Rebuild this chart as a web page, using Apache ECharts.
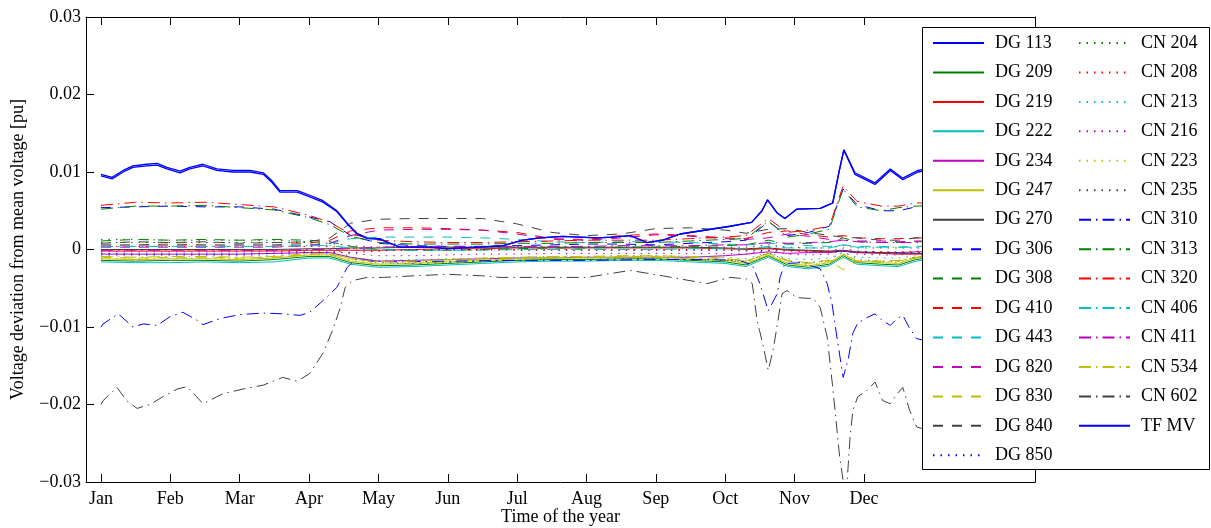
<!DOCTYPE html>
<html>
<head>
<meta charset="utf-8">
<script src="https://cdn.jsdelivr.net/npm/echarts@6/dist/echarts.min.js"></script>
<style>
  html, body { margin: 0; padding: 0; background: #fff; }
  #chart { width: 1211px; height: 528px; }
</style>
</head>
<body>
<div id="chart"></div>
<script>
// ---- axis labels -------------------------------------------------------
const monthLabels = ['Jan','Feb','Mar','Apr','May','Jun','Jul','Aug','Sep','Oct','Nov','Dec'];
const monthTicks = [0,1,2,3,4,5,6,7,8,9,10,11];
const xTitle = 'Time of the year';
const yTitle = 'Voltage deviation from mean voltage [pu]';

// ---- shared sampling instants (months after the Jan tick) --------------
const gridMonths = [0,0.5,1,1.5,2,2.5,3,3.3,3.6,4,4.5,5,5.5,6,6.5,7,7.5,8,8.5,9,9.3,9.62,9.9,10.2,10.5,10.7,10.9,11.25,11.5,11.75,12];

// ---- series sampled on gridMonths (pu) ---------------------------------
const dg209 = [-0.0014,-0.0015,-0.0014,-0.0014,-0.0015,-0.0013,-0.0009,-0.0009,-0.0017,-0.0021,-0.0020,-0.0018,-0.0016,-0.0014,-0.0013,-0.0013,-0.0012,-0.0012,-0.0014,-0.0016,-0.0020,-0.0008,-0.0020,-0.0023,-0.0019,-0.0008,-0.0017,-0.0019,-0.0020,-0.0013,-0.0010];
const dg219 = [-0.0002,-0.0002,-0.0002,-0.0002,-0.0002,-0.0002,-0.0001,-0.0001,-0.0001,-0.0001,0.0000,0.0001,0.0001,0.0002,0.0002,0.0002,0.0002,0.0002,0.0002,0.0001,0.0000,0.0001,-0.0001,-0.0002,-0.0003,-0.0002,-0.0004,-0.0005,-0.0006,-0.0006,-0.0006];
const dg222 = [-0.0016,-0.0017,-0.0017,-0.0016,-0.0017,-0.0016,-0.0011,-0.0011,-0.0019,-0.0023,-0.0022,-0.0020,-0.0018,-0.0016,-0.0015,-0.0015,-0.0014,-0.0014,-0.0016,-0.0018,-0.0022,-0.0010,-0.0022,-0.0025,-0.0021,-0.0010,-0.0019,-0.0021,-0.0022,-0.0015,-0.0012];
const dg234 = [-0.0006,-0.0006,-0.0006,-0.0006,-0.0006,-0.0005,-0.0004,-0.0004,-0.0010,-0.0015,-0.0014,-0.0013,-0.0012,-0.0011,-0.0011,-0.0010,-0.0010,-0.0010,-0.0010,-0.0008,-0.0006,-0.0003,-0.0005,-0.0004,-0.0004,-0.0002,-0.0004,-0.0004,-0.0004,-0.0003,-0.0003];
const dg247 = [-0.0012,-0.0013,-0.0012,-0.0012,-0.0013,-0.0011,-0.0007,-0.0007,-0.0015,-0.0019,-0.0018,-0.0016,-0.0014,-0.0012,-0.0011,-0.0011,-0.0010,-0.0010,-0.0012,-0.0014,-0.0018,-0.0007,-0.0018,-0.0021,-0.0017,-0.0006,-0.0015,-0.0017,-0.0018,-0.0011,-0.0008];
const dg270 = [0.0000,0.0000,0.0000,0.0000,0.0000,0.0000,0.0001,0.0001,0.0002,0.0002,0.0003,0.0003,0.0003,0.0003,0.0003,0.0003,0.0003,0.0003,0.0003,0.0002,0.0001,0.0002,0.0000,-0.0001,-0.0002,-0.0001,-0.0003,-0.0004,-0.0005,-0.0005,-0.0005];
const dg306 = [0.0054,0.0055,0.0056,0.0055,0.0055,0.0052,0.0042,0.0036,0.0018,0.0008,0.0005,0.0004,0.0004,0.0005,0.0006,0.0007,0.0007,0.0006,0.0008,0.0010,0.0012,0.0036,0.0018,0.0022,0.0030,0.0078,0.0058,0.0050,0.0050,0.0055,0.0056];
const dg308 = [0.0011,0.0013,0.0012,0.0013,0.0012,0.0013,0.0012,0.0010,0.0004,0.0000,-0.0001,-0.0001,0.0000,0.0001,0.0002,0.0002,0.0003,0.0003,0.0004,0.0005,0.0006,0.0012,0.0007,0.0008,0.0009,0.0015,0.0010,0.0009,0.0009,0.0010,0.0010];
const dg410 = [0.0006,0.0006,0.0007,0.0006,0.0006,0.0006,0.0008,0.0012,0.0024,0.0028,0.0028,0.0027,0.0025,0.0022,0.0014,0.0013,0.0018,0.0020,0.0018,0.0015,0.0014,0.0022,0.0024,0.0019,0.0016,0.0018,0.0015,0.0014,0.0014,0.0015,0.0015];
const dg443 = [0.0005,0.0005,0.0005,0.0005,0.0005,0.0005,0.0006,0.0008,0.0014,0.0016,0.0016,0.0016,0.0015,0.0013,0.0010,0.0009,0.0010,0.0010,0.0009,0.0007,0.0006,0.0008,0.0007,0.0005,0.0004,0.0006,0.0004,0.0004,0.0003,0.0004,0.0004];
const dg820 = [0.0003,0.0003,0.0003,0.0003,0.0003,0.0003,0.0005,0.0008,0.0018,0.0025,0.0026,0.0026,0.0025,0.0020,0.0013,0.0012,0.0015,0.0019,0.0017,0.0014,0.0013,0.0015,0.0020,0.0017,0.0013,0.0012,0.0011,0.0011,0.0010,0.0011,0.0011];
const dg830 = [-0.0010,-0.0011,-0.0010,-0.0010,-0.0011,-0.0010,-0.0006,-0.0006,-0.0012,-0.0016,-0.0015,-0.0013,-0.0012,-0.0011,-0.0010,-0.0010,-0.0009,-0.0009,-0.0010,-0.0012,-0.0015,-0.0005,-0.0014,-0.0017,-0.0014,-0.0026,-0.0016,-0.0015,-0.0014,-0.0010,-0.0008];
const dg840 = [0.0008,0.0010,0.0009,0.0010,0.0008,0.0009,0.0010,0.0015,0.0034,0.0039,0.0040,0.0040,0.0040,0.0033,0.0022,0.0018,0.0020,0.0027,0.0028,0.0025,0.0021,0.0026,0.0027,0.0022,0.0018,0.0016,0.0015,0.0012,0.0012,0.0015,0.0015];
const dg850 = [-0.0005,-0.0006,-0.0006,-0.0006,-0.0006,-0.0005,-0.0004,-0.0004,-0.0004,-0.0002,0.0000,0.0000,0.0000,-0.0001,-0.0001,-0.0001,-0.0001,-0.0001,-0.0001,-0.0001,-0.0002,-0.0001,-0.0002,-0.0002,-0.0003,-0.0002,-0.0003,-0.0003,-0.0004,-0.0004,-0.0004];
const cn204 = [0.0013,0.0013,0.0012,0.0012,0.0012,0.0012,0.0010,0.0004,-0.0010,-0.0017,-0.0018,-0.0017,-0.0015,-0.0014,-0.0013,-0.0013,-0.0012,-0.0012,-0.0013,-0.0014,-0.0016,-0.0004,-0.0015,-0.0017,-0.0014,-0.0002,-0.0013,-0.0015,-0.0015,-0.0010,-0.0008];
const cn208 = [0.0004,0.0004,0.0004,0.0004,0.0004,0.0004,0.0004,0.0004,0.0001,-0.0001,-0.0001,-0.0001,-0.0001,0.0000,0.0000,0.0000,0.0000,0.0000,0.0000,0.0000,-0.0001,0.0003,-0.0001,-0.0002,-0.0002,0.0002,-0.0002,-0.0003,-0.0003,-0.0002,-0.0002];
const cn213 = [-0.0008,-0.0008,-0.0008,-0.0008,-0.0008,-0.0008,-0.0005,-0.0005,-0.0010,-0.0014,-0.0013,-0.0012,-0.0011,-0.0010,-0.0009,-0.0009,-0.0008,-0.0008,-0.0009,-0.0010,-0.0012,-0.0004,-0.0012,-0.0013,-0.0011,-0.0004,-0.0010,-0.0011,-0.0011,-0.0008,-0.0007];
const cn216 = [-0.0003,-0.0003,-0.0003,-0.0003,-0.0003,-0.0003,-0.0002,-0.0002,-0.0005,-0.0008,-0.0008,-0.0007,-0.0006,-0.0006,-0.0005,-0.0005,-0.0005,-0.0005,-0.0005,-0.0005,-0.0006,-0.0001,-0.0006,-0.0007,-0.0006,-0.0001,-0.0006,-0.0007,-0.0007,-0.0005,-0.0004];
const cn223 = [-0.0011,-0.0012,-0.0011,-0.0011,-0.0012,-0.0011,-0.0007,-0.0007,-0.0014,-0.0018,-0.0017,-0.0015,-0.0013,-0.0012,-0.0011,-0.0011,-0.0010,-0.0010,-0.0011,-0.0013,-0.0017,-0.0006,-0.0017,-0.0020,-0.0016,-0.0006,-0.0014,-0.0016,-0.0017,-0.0011,-0.0008];
const cn235 = [0.0009,0.0009,0.0009,0.0009,0.0009,0.0009,0.0009,0.0008,0.0005,0.0003,0.0003,0.0003,0.0003,0.0003,0.0003,0.0003,0.0003,0.0003,0.0003,0.0003,0.0003,0.0006,0.0003,0.0002,0.0002,0.0005,0.0002,0.0002,0.0002,0.0002,0.0002];
const cn313 = [0.0052,0.0056,0.0056,0.0057,0.0054,0.0051,0.0041,0.0032,0.0017,0.0009,0.0007,0.0007,0.0007,0.0008,0.0008,0.0009,0.0009,0.0009,0.0011,0.0013,0.0014,0.0037,0.0016,0.0020,0.0026,0.0078,0.0055,0.0050,0.0054,0.0056,0.0057];
const cn320 = [0.0057,0.0061,0.0060,0.0061,0.0058,0.0055,0.0044,0.0035,0.0020,0.0012,0.0010,0.0009,0.0009,0.0010,0.0011,0.0012,0.0012,0.0012,0.0014,0.0016,0.0018,0.0040,0.0022,0.0025,0.0030,0.0082,0.0062,0.0056,0.0056,0.0060,0.0060];
const cn406 = [0.0004,0.0004,0.0004,0.0004,0.0004,0.0004,0.0005,0.0005,0.0002,0.0000,-0.0001,-0.0001,-0.0001,0.0000,0.0000,0.0000,0.0000,0.0000,0.0001,0.0001,0.0001,0.0004,0.0002,0.0002,0.0002,0.0006,0.0003,0.0003,0.0003,0.0003,0.0003];
const cn411 = [-0.0001,-0.0001,-0.0001,-0.0001,-0.0001,-0.0001,0.0000,0.0000,0.0001,0.0003,0.0004,0.0004,0.0004,0.0004,0.0004,0.0004,0.0005,0.0005,0.0005,0.0006,0.0006,0.0009,0.0008,0.0009,0.0010,0.0012,0.0010,0.0009,0.0009,0.0009,0.0009];
const cn534 = [-0.0009,-0.0010,-0.0009,-0.0009,-0.0010,-0.0009,-0.0005,-0.0005,-0.0012,-0.0016,-0.0015,-0.0013,-0.0011,-0.0010,-0.0009,-0.0009,-0.0008,-0.0008,-0.0009,-0.0011,-0.0015,-0.0005,-0.0015,-0.0018,-0.0015,-0.0012,-0.0015,-0.0015,-0.0015,-0.0010,-0.0007];

// ---- series with their own, denser sampling: [month, pu] ---------------
const dg113 = [[0,0.0097],[0.16,0.0093],[0.32,0.0102],[0.46,0.0108],[0.66,0.0110],[0.81,0.0111],[0.95,0.0106],[1.14,0.0101],[1.28,0.0106],[1.47,0.0110],[1.67,0.0104],[1.90,0.0102],[2.15,0.0102],[2.34,0.0099],[2.46,0.0089],[2.58,0.0076],[2.83,0.0076],[3.01,0.0070],[3.20,0.0063],[3.40,0.0050],[3.55,0.0034],[3.69,0.0021],[3.84,0.0015],[4.02,0.0014],[4.17,0.0008],[4.31,0.0003],[4.74,0.0003],[4.99,0.0001],[5.46,0.0003],[5.80,0.0005],[6.08,0.0012],[6.33,0.0015],[6.66,0.0017],[7.15,0.0015],[7.38,0.0016],[7.63,0.0018],[7.87,0.0009],[8.10,0.0012],[8.35,0.0020],[9.07,0.0030],[9.38,0.0035],[9.53,0.0050],[9.61,0.0064],[9.75,0.0047],[9.86,0.0040],[10.03,0.0052],[10.37,0.0053],[10.47,0.0057],[10.55,0.0060],[10.64,0.0100],[10.71,0.0129],[10.87,0.0099],[11.16,0.0086],[11.38,0.0104],[11.56,0.0092],[11.78,0.0102],[12,0.0106]];
const tfmv = [[0,0.0095],[0.16,0.0091],[0.32,0.0100],[0.46,0.0106],[0.66,0.0108],[0.81,0.0109],[0.95,0.0104],[1.14,0.0099],[1.28,0.0104],[1.47,0.0108],[1.67,0.0102],[1.90,0.0100],[2.15,0.0100],[2.34,0.0097],[2.46,0.0087],[2.58,0.0074],[2.83,0.0074],[3.01,0.0068],[3.20,0.0061],[3.40,0.0049],[3.55,0.0033],[3.69,0.0020],[3.84,0.0014],[4.02,0.0013],[4.17,0.0008],[4.31,0.0003],[4.74,0.0003],[4.99,0.0001],[5.46,0.0003],[5.80,0.0005],[6.08,0.0012],[6.33,0.0015],[6.66,0.0017],[7.15,0.0015],[7.38,0.0016],[7.63,0.0018],[7.87,0.0009],[8.10,0.0012],[8.35,0.0020],[9.07,0.0030],[9.38,0.0035],[9.53,0.0050],[9.61,0.0064],[9.75,0.0047],[9.86,0.0040],[10.03,0.0052],[10.37,0.0053],[10.47,0.0057],[10.55,0.0060],[10.64,0.0100],[10.71,0.0128],[10.87,0.0097],[11.16,0.0084],[11.38,0.0102],[11.56,0.0090],[11.78,0.0100],[12,0.0104]];
const cn310 = [[0,-0.0100],[0.03,-0.0096],[0.25,-0.0083],[0.46,-0.0100],[0.61,-0.0096],[0.81,-0.0098],[0.99,-0.0087],[1.18,-0.0081],[1.38,-0.0091],[1.47,-0.0097],[1.72,-0.0089],[2.00,-0.0084],[2.34,-0.0082],[2.62,-0.0083],[2.87,-0.0085],[3.01,-0.0081],[3.20,-0.0066],[3.40,-0.0049],[3.55,-0.0023],[3.68,-0.0012],[3.9,-0.0015],[4.3,-0.0016],[5,-0.0015],[6,-0.0014],[7,-0.0014],[8,-0.0013],[8.7,-0.0013],[9.2,-0.0014],[9.39,-0.0020],[9.50,-0.0044],[9.62,-0.0079],[9.75,-0.0057],[9.79,-0.0036],[9.86,-0.0018],[10.1,-0.0017],[10.37,-0.0025],[10.47,-0.0044],[10.54,-0.0070],[10.61,-0.0113],[10.70,-0.0165],[10.77,-0.0143],[10.84,-0.0108],[10.91,-0.0095],[11.04,-0.0088],[11.16,-0.0083],[11.26,-0.0091],[11.38,-0.0098],[11.48,-0.0089],[11.56,-0.0085],[11.66,-0.0102],[11.76,-0.0115],[12,-0.0120]];
const cn602 = [[0,-0.0200],[0.03,-0.0195],[0.23,-0.0178],[0.37,-0.0195],[0.52,-0.0205],[0.71,-0.0200],[0.89,-0.0190],[1.10,-0.0180],[1.24,-0.0177],[1.38,-0.0190],[1.47,-0.0199],[1.76,-0.0186],[2.05,-0.0180],[2.34,-0.0175],[2.62,-0.0165],[2.83,-0.0170],[3.01,-0.0160],[3.20,-0.0134],[3.34,-0.0104],[3.45,-0.0075],[3.52,-0.0049],[3.63,-0.0040],[3.84,-0.0036],[4.07,-0.0036],[4.5,-0.0034],[5.0,-0.0032],[5.5,-0.0034],[5.75,-0.0036],[6.4,-0.0036],[7.0,-0.0036],[7.63,-0.0027],[8.10,-0.0034],[8.35,-0.0038],[8.74,-0.0044],[9.07,-0.0036],[9.31,-0.0038],[9.39,-0.0044],[9.46,-0.0092],[9.54,-0.0121],[9.62,-0.0156],[9.69,-0.0130],[9.76,-0.0092],[9.82,-0.0057],[9.89,-0.0053],[10.03,-0.0062],[10.18,-0.0063],[10.27,-0.0063],[10.37,-0.0075],[10.47,-0.0113],[10.55,-0.0178],[10.65,-0.0268],[10.70,-0.0298],[10.76,-0.0296],[10.80,-0.0242],[10.84,-0.0208],[10.91,-0.0190],[11.04,-0.0182],[11.16,-0.0171],[11.27,-0.0195],[11.38,-0.0199],[11.48,-0.0186],[11.56,-0.0178],[11.66,-0.0208],[11.76,-0.0229],[12.0,-0.0235]];

// ---- line colours and patterns ----------------------------------------
const colors = { b: '#0000ff', g: '#008000', r: '#ff0000', c: '#00bfbf', m: '#bf00bf', y: '#bfbf00', k: '#404040' };
const patterns = { solid: 'solid', dash: [10, 9], dot: [1.5, 6], dashdot: [12, 5, 1.5, 5] };

const onGrid = (vals) => {
  if (vals.length !== gridMonths.length) throw new Error('length mismatch ' + vals.length);
  return gridMonths.map((m, i) => [m, vals[i]]);
};

const seriesDefs = [
  ['DG 113', dg113, 'b', 'solid', 1.3],
  ['DG 209', onGrid(dg209), 'g', 'solid', 1],
  ['DG 219', onGrid(dg219), 'r', 'solid', 1],
  ['DG 222', onGrid(dg222), 'c', 'solid', 1],
  ['DG 234', onGrid(dg234), 'm', 'solid', 1],
  ['DG 247', onGrid(dg247), 'y', 'solid', 1],
  ['DG 270', onGrid(dg270), 'k', 'solid', 1],
  ['DG 306', onGrid(dg306), 'b', 'dash', 1],
  ['DG 308', onGrid(dg308), 'g', 'dash', 1],
  ['DG 410', onGrid(dg410), 'r', 'dash', 1],
  ['DG 443', onGrid(dg443), 'c', 'dash', 1],
  ['DG 820', onGrid(dg820), 'm', 'dash', 1],
  ['DG 830', onGrid(dg830), 'y', 'dash', 1],
  ['DG 840', onGrid(dg840), 'k', 'dash', 1],
  ['DG 850', onGrid(dg850), 'b', 'dot', 1],
  ['CN 204', onGrid(cn204), 'g', 'dot', 1],
  ['CN 208', onGrid(cn208), 'r', 'dot', 1],
  ['CN 213', onGrid(cn213), 'c', 'dot', 1],
  ['CN 216', onGrid(cn216), 'm', 'dot', 1],
  ['CN 223', onGrid(cn223), 'y', 'dot', 1],
  ['CN 235', onGrid(cn235), 'k', 'dot', 1],
  ['CN 310', cn310, 'b', 'dashdot', 1],
  ['CN 313', onGrid(cn313), 'g', 'dashdot', 1],
  ['CN 320', onGrid(cn320), 'r', 'dashdot', 1],
  ['CN 406', onGrid(cn406), 'c', 'dashdot', 1],
  ['CN 411', onGrid(cn411), 'm', 'dashdot', 1],
  ['CN 534', onGrid(cn534), 'y', 'dashdot', 1],
  ['CN 602', cn602, 'k', 'dashdot', 1],
  ['TF MV', tfmv, 'b', 'solid', 1.3]
];

const serif = 'Liberation Serif';
const black = '#000';

const fmtY = (v) => {
  const r = Math.round(v * 100) / 100;
  if (r === 0) return '0';
  return (r < 0 ? '\u2212' : '') + Math.abs(r).toFixed(2);
};

const xMin = -0.216, xMax = 13.466;

// legend entries show only the line sample, no marker
const legendBase = {
  orient: 'vertical',
  top: 34,
  padding: 0,
  itemWidth: 51,
  itemHeight: 18,
  itemGap: 11.45,
  selectedMode: false,
  z: 5,
  itemStyle: { opacity: 0 },
  textStyle: { fontFamily: serif, fontSize: 18, color: black, lineHeight: 18, padding: [0, 0, 0, 6] }
};

const option = {
  animation: false,
  backgroundColor: '#fff',
  grid: { left: 86, top: 17, width: 949, height: 465, containLabel: false, outerBoundsMode: 'none' },
  legend: [
    Object.assign({}, legendBase, { left: 932, data: seriesDefs.slice(0, 15).map(d => d[0]) }),
    Object.assign({}, legendBase, { left: 1078, data: seriesDefs.slice(15).map(d => d[0]) })
  ],
  graphic: [{
    type: 'rect', z: 3, silent: true,
    shape: { x: 922.5, y: 27.5, width: 287, height: 442 },
    style: { fill: '#fff', stroke: black, lineWidth: 1 }
  }],
  xAxis: [
    {
      type: 'value', min: xMin, max: xMax, position: 'bottom',
      axisLine: { onZero: false, lineStyle: { color: black, width: 1 } },
      axisTick: { inside: true, length: 8, customValues: monthTicks, lineStyle: { color: black } },
      axisLabel: { customValues: monthTicks, formatter: (v) => monthLabels[Math.round(v)],
                   color: black, fontFamily: serif, fontSize: 18, margin: 8 },
      splitLine: { show: false },
      name: xTitle, nameLocation: 'middle', nameGap: 26, nameMoveOverlap: false,
      nameTextStyle: { fontFamily: serif, fontSize: 18, color: black }
    },
    {
      type: 'value', min: xMin, max: xMax, position: 'top',
      axisLine: { onZero: false, lineStyle: { color: black, width: 1 } },
      axisTick: { inside: true, length: 8, customValues: monthTicks, lineStyle: { color: black } },
      axisLabel: { show: false },
      splitLine: { show: false }
    }
  ],
  yAxis: [
    {
      type: 'value', min: -0.03, max: 0.03, interval: 0.01, position: 'left',
      axisLine: { show: true, onZero: false, lineStyle: { color: black, width: 1 } },
      axisTick: { show: true, inside: true, length: 8, lineStyle: { color: black } },
      axisLabel: { formatter: fmtY, color: black, fontFamily: serif, fontSize: 18, margin: 5 },
      splitLine: { show: false },
      name: yTitle, nameLocation: 'middle', nameGap: 59, nameMoveOverlap: false,
      nameTextStyle: { fontFamily: serif, fontSize: 18, color: black }
    },
    {
      type: 'value', min: -0.03, max: 0.03, interval: 0.01, position: 'right',
      axisLine: { show: true, onZero: false, lineStyle: { color: black, width: 1 } },
      axisTick: { show: true, inside: true, length: 8, lineStyle: { color: black } },
      axisLabel: { show: false },
      splitLine: { show: false }
    }
  ],
  series: seriesDefs.map(([name, data, c, p, w]) => ({
    name, type: 'line', data,
    xAxisIndex: 0, yAxisIndex: 0,
    symbol: 'none', silent: true, smooth: false, z: 2,
    lineStyle: { color: colors[c], type: patterns[p], width: w },
    itemStyle: { color: colors[c] }
  }))
};

const chart = echarts.init(document.getElementById('chart'), null, { renderer: 'canvas' });
chart.setOption(option);
</script>
</body>
</html>
